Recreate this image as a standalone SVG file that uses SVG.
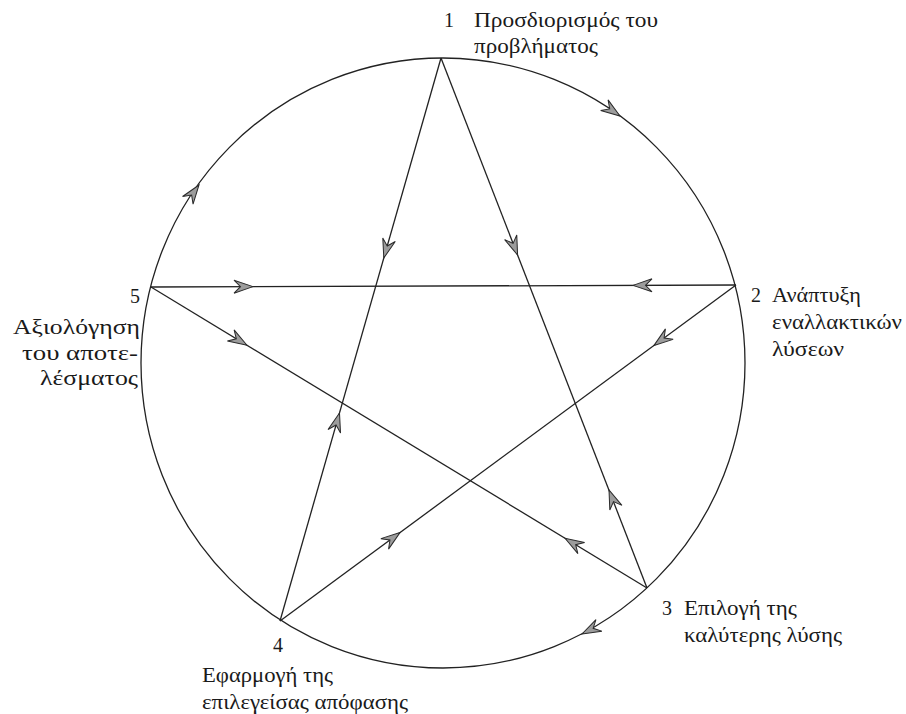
<svg xmlns="http://www.w3.org/2000/svg" xmlns:xlink="http://www.w3.org/1999/xlink" width="906" height="714" viewBox="0 0 906 714">
<style>
.ln{stroke:#222;stroke-width:1.3;fill:none}
.t{font-family:"Liberation Serif","DejaVu Serif",serif;font-size:20px;fill:#1a1a1a}
.ah{fill:#9c9c9c;stroke:#2a2a2a;stroke-width:1;stroke-linejoin:miter}
</style>
<defs>
<path id="ah" class="ah" d="M0,0 L-19,-6.5 L-12.5,0 L-19,6.5 Z"/>
</defs>
<rect width="906" height="714" fill="#ffffff"/>
<g id="connectors">
<ellipse class="ln" cx="443" cy="363" rx="302" ry="305"/>
<line class="ln" x1="441" y1="58" x2="647" y2="588"/>
<line class="ln" x1="441" y1="58" x2="280" y2="621"/>
<line class="ln" x1="151" y1="287" x2="736" y2="285"/>
<line class="ln" x1="151" y1="287" x2="647" y2="588"/>
<line class="ln" x1="736" y1="285" x2="280" y2="621"/>
<use xlink:href="#ah" transform="translate(517.6,255) rotate(68.76)"/>
<use xlink:href="#ah" transform="translate(383.8,258) rotate(105.96)"/>
<use xlink:href="#ah" transform="translate(253,286.6) rotate(-0.2)"/>
<use xlink:href="#ah" transform="translate(633,285.4) rotate(179.8)"/>
<use xlink:href="#ah" transform="translate(247,345.3) rotate(31.25)"/>
<use xlink:href="#ah" transform="translate(565,538.2) rotate(211.25)"/>
<use xlink:href="#ah" transform="translate(609,490) rotate(248.76)"/>
<use xlink:href="#ah" transform="translate(654,345.4) rotate(143.6)"/>
<use xlink:href="#ah" transform="translate(400,532.6) rotate(-36.4)"/>
<use xlink:href="#ah" transform="translate(339.5,413) rotate(-74.04)"/>
<use xlink:href="#ah" transform="translate(620,116) rotate(34.7)"/>
<use xlink:href="#ah" transform="translate(199,185) rotate(-53.9)"/>
<use xlink:href="#ah" transform="translate(582,634) rotate(152.9)"/>
</g>
<g id="node1">
<text class="t" x="444" y="27">1</text>
<text class="t" x="474" y="27" textLength="184" lengthAdjust="spacingAndGlyphs">Προσδιορισμός του</text>
<text class="t" x="474" y="53" textLength="124" lengthAdjust="spacingAndGlyphs">προβλήματος</text>
</g>
<g id="node2">
<text class="t" x="751" y="302">2</text>
<text class="t" x="772" y="302" textLength="89" lengthAdjust="spacingAndGlyphs">Ανάπτυξη</text>
<text class="t" x="772" y="329" textLength="130" lengthAdjust="spacingAndGlyphs">εναλλακτικών</text>
<text class="t" x="772" y="356" textLength="72" lengthAdjust="spacingAndGlyphs">λύσεων</text>
</g>
<g id="node3">
<text class="t" x="662" y="615">3</text>
<text class="t" x="684" y="615" textLength="113" lengthAdjust="spacingAndGlyphs">Επιλογή της</text>
<text class="t" x="684" y="642" textLength="158" lengthAdjust="spacingAndGlyphs">καλύτερης λύσης</text>
</g>
<g id="node4">
<text class="t" x="273" y="652">4</text>
<text class="t" x="202" y="682" textLength="131" lengthAdjust="spacingAndGlyphs">Εφαρμογή της</text>
<text class="t" x="202" y="709" textLength="206" lengthAdjust="spacingAndGlyphs">επιλεγείσας απόφασης</text>
</g>
<g id="node5">
<text class="t" x="130" y="303">5</text>
<text class="t" x="13" y="334" textLength="127" lengthAdjust="spacingAndGlyphs">Αξιολόγηση</text>
<text class="t" x="22" y="360" textLength="116" lengthAdjust="spacingAndGlyphs">του αποτε-</text>
<text class="t" x="40" y="385" textLength="98" lengthAdjust="spacingAndGlyphs">λέσματος</text>
</g>
</svg>
